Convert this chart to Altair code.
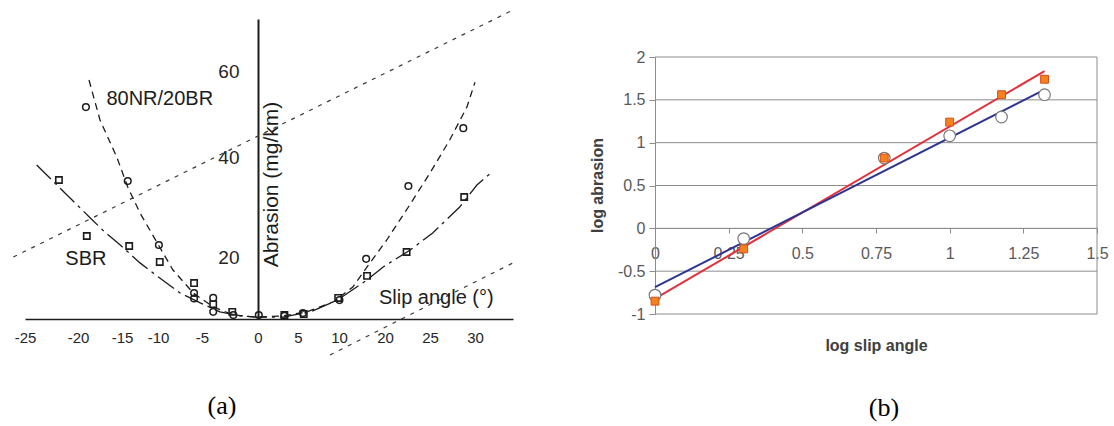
import altair as alt
import pandas as pd

# ---------------- (a) abrasion rate against slip angle ----------------
# hollow circles: 80NR/20BR compound
nr_angle = [-19.1, -14.2, -9.9, -5.9, -5.9, -4.0, -4.0, -2.2, 0.1, 3.3, 5.6, 10.1, 15.9, 22.6, 28.7]
nr_abrasion = [51.6, 35.2, 22.4, 8.4, 6.6, 6.8, 2.3, 1.3, 1.3, 1.0, 1.9, 6.1, 19.4, 34.2, 46.7]
# hollow squares: SBR compound
sbr_angle = [-21.8, -19.0, -14.0, -9.8, -5.9, -4.0, -2.3, 3.3, 5.7, 9.9, 16.1, 22.4, 28.8]
sbr_abrasion = [35.4, 24.2, 22.2, 18.4, 11.6, 4.8, 2.3, 1.3, 1.6, 6.8, 13.9, 21.0, 32.0]

# hand-drawn trend curves through each compound
nr_curve_angle = [-18.75, -17.5, -15.6, -14.2, -12.5, -10.1, -8.3, -6.0, -4.0, -2.2, -0.1,
                  3.1, 6.1, 9.3, 13.0, 16.1, 20.2, 22.6, 25.0, 27.2, 29.1, 30.0]
nr_curve_abrasion = [57.9, 48.6, 40.0, 34.0, 28.8, 22.8, 15.8, 8.4, 3.9, 1.3, 0.6,
                     1.0, 2.3, 5.5, 10.3, 16.8, 23.4, 30.0, 36.8, 44.0, 51.6, 57.4]
sbr_curve_angle = [-23.9, -18.6, -17.2, -15.2, -12.5, -9.8, -7.5, -5.2, -3.4, -1.6, -0.1,
                   3.1, 6.5, 9.8, 16.1, 19.6, 22.8, 25.3, 28.3, 30.2, 31.9]
sbr_curve_abrasion = [38.4, 27.8, 25.4, 22.4, 18.1, 13.2, 8.4, 5.2, 2.3, 1.0, 0.6,
                      0.6, 2.3, 6.1, 12.6, 16.8, 21.4, 24.8, 30.0, 34.4, 37.2]

# two parallel dotted guide lines crossing the panel
guide_id = ["upper", "upper", "lower", "lower"]
guide_angle = [-26.1, 34.2, 8.9, 34.2]
guide_abrasion = [20.0, 74.3, -11.6, 18.4]

a_tick_values = [-25, -20, -15, -10, -5, 0, 5, 10, 20, 25, 30]
a_abrasion_ticks = [20, 40, 60]

# ---------------- (b) log-log form of the same measurements ----------------
log_slip = [0.0, 0.301, 0.778, 1.0, 1.176, 1.322]
log_abrasion_square = [-0.85, -0.24, 0.82, 1.24, 1.56, 1.74]
log_abrasion_circle = [-0.78, -0.12, 0.82, 1.08, 1.30, 1.56]
b_x_ticks = [0, 0.25, 0.5, 0.75, 1, 1.25, 1.5]
b_y_ticks = [-1, -0.5, 0, 0.5, 1, 1.5, 2]

FONT = "Liberation Sans"
INK = "#1c1c1c"
GRID = "#8c8c8c"
MINUS = "datum.value < 0 ? '-' + abs(datum.value) : '' + datum.value"

# ---------- scales and axes of panel (a) ----------
xa_scale = alt.Scale(domain=[-25, -20, -15, -10, -5, 0, 5, 10, 20, 25, 30, 34],
                     range=[25, 78, 122, 158, 202, 258, 298, 339, 385, 430, 475, 513],
                     nice=False, zero=False)
ya_scale = alt.Scale(domain=[0, 20, 40, 60, 72], range=[319, 257, 157, 71, 19],
                     nice=False, zero=False)
xa_axis = alt.Axis(orient="bottom", offset=-107, values=a_tick_values, labelExpr=MINUS,
                   ticks=False, grid=False, labelPadding=11, labelFont=FONT, labelFontSize=15,
                   labelColor="#262626", domainColor=INK, domainWidth=1.5, labelFlush=False,
                   labelOverlap=False)
ya_axis = alt.Axis(orient="left", offset=-258, values=a_abrasion_ticks, ticks=False, grid=False,
                   labelPadding=19, labelFont=FONT, labelFontSize=19, labelColor="#262626",
                   domainColor=INK, domainWidth=2, title="Abrasion (mg/km)", titleFont=FONT,
                   titleFontSize=21, titleFontWeight="normal", titleColor=INK, titleAngle=270,
                   titleX=13, titleY=184, titleAlign="center", titleBaseline="middle")


def xa(field):
    return alt.X(field, type="quantitative", scale=xa_scale, axis=xa_axis, title=None)


def ya(field):
    return alt.Y(field, type="quantitative", scale=ya_scale, axis=ya_axis)


guides_df = pd.DataFrame({"guide": guide_id, "angle": guide_angle, "abrasion": guide_abrasion})
nr_df = pd.DataFrame({"angle": nr_angle, "abrasion": nr_abrasion})
sbr_df = pd.DataFrame({"angle": sbr_angle, "abrasion": sbr_abrasion})
nr_curve_df = pd.DataFrame({"angle": nr_curve_angle, "abrasion": nr_curve_abrasion})
sbr_curve_df = pd.DataFrame({"angle": sbr_curve_angle, "abrasion": sbr_curve_abrasion})

guides = alt.Chart(guides_df).mark_line(color="#3a3a3a", strokeWidth=1.2, strokeDash=[4, 6]).encode(
    x=xa("angle"), y=ya("abrasion"), detail="guide:N")
nr_curve = alt.Chart(nr_curve_df).mark_line(color=INK, strokeWidth=1.3, strokeDash=[7, 5]).encode(
    x=xa("angle"), y=ya("abrasion"))
sbr_curve = alt.Chart(sbr_curve_df).mark_line(color=INK, strokeWidth=1.3,
                                              strokeDash=[20, 5, 3, 5]).encode(
    x=xa("angle"), y=ya("abrasion"))
nr_points = alt.Chart(nr_df).mark_point(shape="circle", filled=False, color=INK, size=44,
                                        strokeWidth=1.5, opacity=1).encode(
    x=xa("angle"), y=ya("abrasion"))
sbr_points = alt.Chart(sbr_df).mark_point(shape="square", filled=False, color=INK, size=40,
                                          strokeWidth=1.6, opacity=1).encode(
    x=xa("angle"), y=ya("abrasion"))


def note(text, angle, abrasion):
    return alt.Chart(pd.DataFrame({"t": [text]})).mark_text(
        font=FONT, fontSize=20, color=INK, align="center", baseline="middle").encode(
        x=alt.datum(angle), y=alt.datum(abrasion), text="t:N")


panel_a = alt.layer(
    guides, nr_curve, sbr_curve, nr_points, sbr_points,
    note("80NR/20BR", -9.8, 53.5), note("SBR", -19.1, 19.4), note("Slip angle (°)", 25.7, 6.8),
)

# ---------- scales and axes of panel (b) ----------
xb_scale = alt.Scale(domain=[0, 1.5], range=[655, 1097], nice=False, zero=False)
yb_scale = alt.Scale(domain=[-1, 2], range=[314, 57], nice=False, zero=False)
xb_axis = alt.Axis(orient="bottom", offset=-198, values=b_x_ticks, labelExpr=MINUS, grid=False,
                   tickSize=5, tickColor=GRID, domainColor=GRID, labelPadding=12,
                   labelFont=FONT, labelFontSize=16, labelColor="#595959", labelFlush=False,
                   labelOverlap=False, title="log slip angle", titleFont=FONT, titleFontSize=16,
                   titleFontWeight="bold", titleColor="#404040", titleX=876, titleY=117,
                   titleAlign="center", titleBaseline="middle")
yb_axis = alt.Axis(orient="left", offset=-655, values=b_y_ticks, labelExpr=MINUS, grid=False,
                   tickSize=6, tickColor=GRID, domainColor=GRID, labelPadding=4,
                   labelFont=FONT, labelFontSize=16, labelColor="#595959", labelOverlap=False,
                   title="log abrasion", titleFont=FONT, titleFontSize=16, titleFontWeight="bold",
                   titleColor="#404040", titleAngle=270, titleX=-58, titleY=185,
                   titleAlign="center", titleBaseline="middle")


def xb(field):
    return alt.X(field, type="quantitative", scale=xb_scale, axis=xb_axis)


def yb(field):
    return alt.Y(field, type="quantitative", scale=yb_scale, axis=yb_axis)


b_df = pd.DataFrame({
    "log_slip": log_slip + log_slip,
    "log_abrasion": log_abrasion_square + log_abrasion_circle,
    "marker": ["square"] * len(log_slip) + ["circle"] * len(log_slip),
})
grid_df = pd.DataFrame({"level": b_y_ticks})

gridlines = alt.Chart(grid_df).mark_rule(color=GRID, strokeWidth=1).encode(
    y=yb("level"), x=alt.datum(0), x2=alt.datum(1.5))
right_edge = alt.Chart(pd.DataFrame({"edge": [1.5]})).mark_rule(color=GRID, strokeWidth=1).encode(
    x=xb("edge"), y=alt.datum(-1), y2=alt.datum(2))
fits = alt.Chart(b_df).transform_regression(
    "log_slip", "log_abrasion", groupby=["marker"]).mark_line(strokeWidth=2).encode(
    x=xb("log_slip"), y=yb("log_abrasion"),
    color=alt.Color("marker:N", legend=None,
                    scale=alt.Scale(domain=["square", "circle"], range=["#e0323c", "#2e3590"])))
circles = alt.Chart(b_df).transform_filter("datum.marker == 'circle'").mark_point(
    shape="circle", filled=True, fill="white", stroke="#7a7a7a", strokeWidth=1.2, size=135,
    opacity=1).encode(x=xb("log_slip"), y=yb("log_abrasion"))
squares = alt.Chart(b_df).transform_filter("datum.marker == 'square'").mark_point(
    shape="square", filled=True, fill="#f5821f", stroke="#d6501c", strokeWidth=1, size=62,
    opacity=1).encode(x=xb("log_slip"), y=yb("log_abrasion"))

panel_b = alt.layer(gridlines, right_edge, fits, circles, squares)

# ---------- panel captions ----------
def caption(text, px, py):
    return alt.Chart(pd.DataFrame({"t": [text]})).mark_text(
        font="Liberation Serif", fontSize=26, color="#000000", align="center",
        baseline="middle").encode(x=alt.value(px), y=alt.value(py), text="t:N")


chart = alt.layer(
    panel_a, panel_b, caption("(a)", 222, 406), caption("(b)", 884, 408)
).resolve_scale(
    x="independent", y="independent"
).properties(
    width=1114, height=426, padding=0, autosize=alt.AutoSizeParams(type="none"),
    background="white",
).configure_view(stroke=None)

chart.save("out.html", embed_options={"renderer": "svg", "actions": False})
